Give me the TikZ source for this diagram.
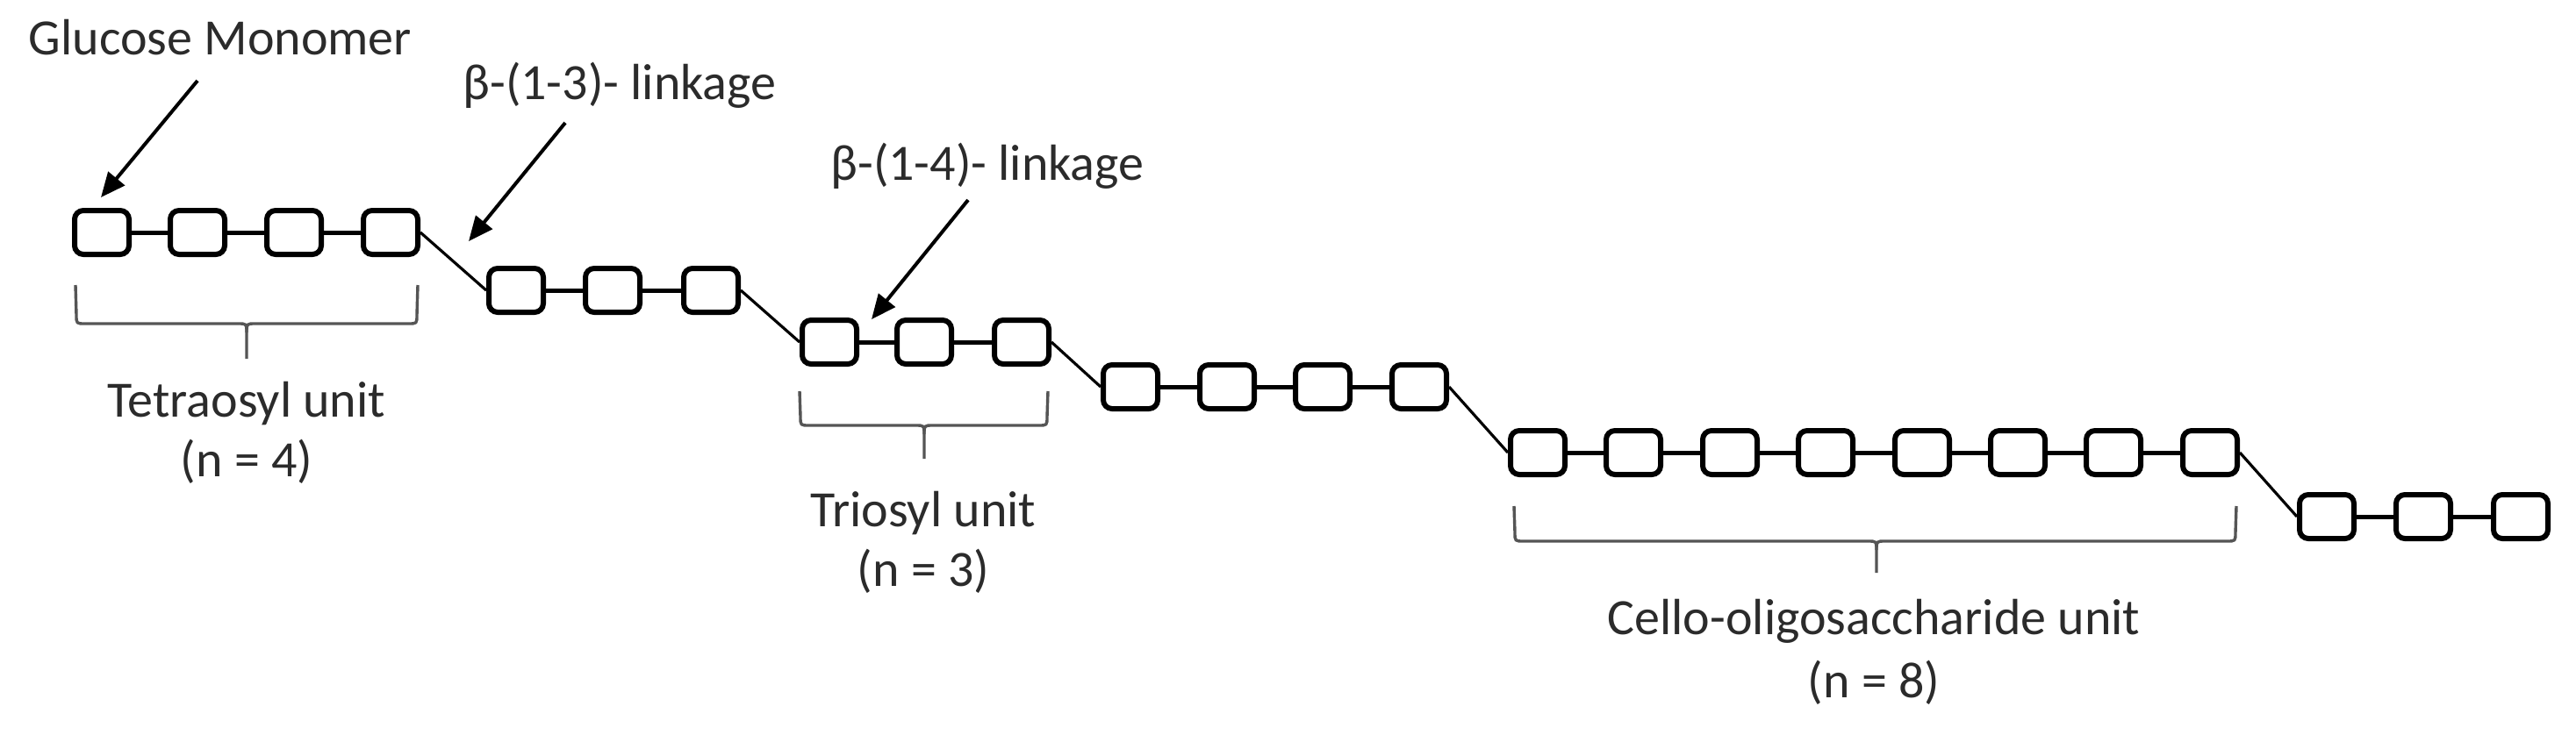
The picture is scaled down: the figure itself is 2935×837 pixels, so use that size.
\documentclass[tikz,border=0pt]{standalone}
\usepackage{fontspec}
\setmainfont{Carlito}
\usetikzlibrary{arrows.meta}
\definecolor{txt}{HTML}{2B2B2B}
\definecolor{brk}{HTML}{555555}
\begin{document}
\begin{tikzpicture}[x=0.25pt,y=-0.25pt,
  glc/.style={draw=black, line width=1.5pt, rounded corners=2.5pt, minimum width=15.5pt, minimum height=12.5pt, inner sep=0pt, fill=white},
  bond/.style={line width=1.25pt},
  link/.style={line width=0.8pt},
  ptr/.style={line width=1pt, -{Triangle[length=7pt,width=6pt]}},
  brace/.style={draw=brk, line width=0.85pt},
  lbl/.style={text=txt, font=\fontsize{14.5pt}{17.5pt}\selectfont, inner sep=0pt, anchor=base}]
\useasboundingbox (0,0) rectangle (2935,837);

% glucose units
\node[glc] (g1) at (116,265) {};
\node[glc] (g2) at (225,265) {};
\node[glc] (g3) at (335,265) {};
\node[glc] (g4) at (445,265) {};
\node[glc] (g5) at (588,331) {};
\node[glc] (g6) at (698,331) {};
\node[glc] (g7) at (810,331) {};
\node[glc] (g8) at (945,390) {};
\node[glc] (g9) at (1053,390) {};
\node[glc] (g10) at (1164,390) {};
\node[glc] (g11) at (1288,441) {};
\node[glc] (g12) at (1398,441) {};
\node[glc] (g13) at (1507,441) {};
\node[glc] (g14) at (1617,441) {};
\node[glc] (g15) at (1752,516) {};
\node[glc] (g16) at (1861,516) {};
\node[glc] (g17) at (1971,516) {};
\node[glc] (g18) at (2080,516) {};
\node[glc] (g19) at (2190,516) {};
\node[glc] (g20) at (2299,516) {};
\node[glc] (g21) at (2408,516) {};
\node[glc] (g22) at (2518,516) {};
\node[glc] (g23) at (2651,589) {};
\node[glc] (g24) at (2761,589) {};
\node[glc] (g25) at (2872,589) {};

% beta-(1-4) bonds within rows
\foreach \a/\b in {g1/g2,g2/g3,g3/g4,g5/g6,g6/g7,g8/g9,g9/g10,g11/g12,g12/g13,g13/g14,
  g15/g16,g16/g17,g17/g18,g18/g19,g19/g20,g20/g21,g21/g22,g23/g24,g24/g25}
  \draw[bond] (\a.east) -- (\b.west);
% beta-(1-3) links between rows
\foreach \a/\b in {g4/g5,g7/g8,g10/g11,g14/g15,g22/g23}
  \draw[link] (\a.east) -- (\b.west);

% labels
\node[lbl] (glu) at (251,62) {Glucose Monomer};
\node[lbl] (l13) at (706,113) {β-(1-3)- linkage};
\node[lbl] (l14) at (1125,205) {β-(1-4)- linkage};
\node[lbl] (tetra) at (281,475) {Tetraosyl unit};
\node[lbl] (tetran) at (281,543) {(n = 4)};
\node[lbl] (trio) at (1052,600) {Triosyl unit};
\node[lbl] (trion) at (1052,668) {(n = 3)};
\node[lbl] (cello) at (2135,723) {Cello-oligosaccharide unit};
\node[lbl] (cellon) at (2135,795) {(n = 8)};

% pointer arrows
\coordinate (a1s) at (225,92);   \coordinate (a1e) at (115,225);
\coordinate (a2s) at (644,140);  \coordinate (a2e) at (534,275);
\coordinate (a3s) at (1103,228); \coordinate (a3e) at (993,364);
\draw[ptr] (a1s) -- (a1e);
\draw[ptr] (a2s) -- (a2e);
\draw[ptr] (a3s) -- (a3e);

% brackets
\draw[brace] (86,325) -- (87,359) .. controls (87,369) .. (97,369) -- (271,369)
  .. controls (281,369) .. (281,379) -- (281,409);
\draw[brace] (476,325) -- (475,359) .. controls (475,369) .. (465,369) -- (291,369)
  .. controls (281,369) .. (281,379);
\draw[brace] (911,446) -- (912,475) .. controls (912,485) .. (922,485) -- (1043,485)
  .. controls (1053,485) .. (1053,495) -- (1053,523);
\draw[brace] (1194,446) -- (1193,475) .. controls (1193,485) .. (1183,485) -- (1063,485)
  .. controls (1053,485) .. (1053,495);
\draw[brace] (1725,577) -- (1726,607) .. controls (1726,617) .. (1736,617) -- (2128,617)
  .. controls (2138,617) .. (2138,627) -- (2138,653);
\draw[brace] (2548,577) -- (2547,607) .. controls (2547,617) .. (2537,617) -- (2148,617)
  .. controls (2138,617) .. (2138,627);
\end{tikzpicture}
\end{document}
